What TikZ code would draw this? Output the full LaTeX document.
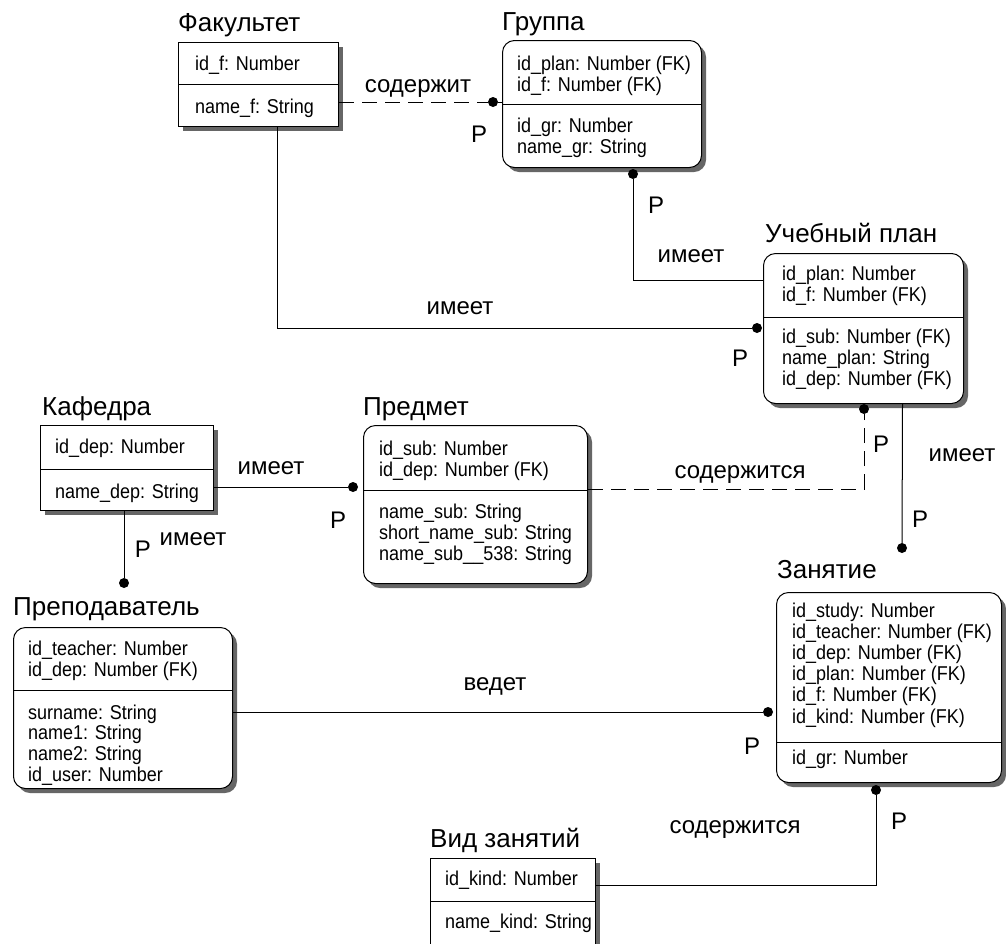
\documentclass[tikz,border=0pt]{standalone}
\usepackage{fontspec}
\setmainfont{Liberation Sans}
\newfontfamily\attrfont[FakeStretch=0.9]{Liberation Sans}

\tikzset{
  entity/.style={draw, line width=1pt, fill=white, inner sep=0pt, anchor=north west},
  shadowfill/.style={fill=black!60},
  divider/.style={line width=1pt},
  title/.style={anchor=base west, inner sep=0pt, font=\fontsize{26pt}{30pt}\selectfont},
  attr/.style={anchor=base west, inner sep=0pt, font=\attrfont\fontsize{20pt}{21pt}\selectfont},
  rel/.style={line width=1pt},
  ident/.style={rel},
  nonident/.style={rel, dash pattern=on 15pt off 8pt},
  dot/.style={circle, fill=black, inner sep=0pt, minimum size=10pt},
  lbl/.style={anchor=base, inner sep=0pt, font=\fontsize{24pt}{28pt}\selectfont},
}

\begin{document}
\begin{tikzpicture}[x=1pt, y=-1pt]
\useasboundingbox (0,0) rectangle (1006,943);
\clip (0,0) rectangle (1006,943);
\fill[white] (0,0) rectangle (1006,943);

% ---------- entity boxes with their shadows ----------
% name / left / top / width / height / corner radius
\foreach \n/\x/\y/\w/\h/\r in {
    fak/178/42/160/84/0, gru/502/40/199/127/12, upl/763/253/200/150/12,
    kaf/40/425/173/85/0, pre/363/425/224/158/12, tea/13/627/219/161/12,
    zan/776/592/225/190/12, vid/430/858/165/110/0} {
  \fill[shadowfill, rounded corners=\r pt] ({\x+5},{\y+5}) rectangle ++(\w,\h);
  \node[entity, rounded corners=\r pt, minimum width=\w pt, minimum height=\h pt] (\n) at (\x,\y) {};
}

% ---------- Факультет ----------
\node[title] (fak-t) at (178,31) {Факультет};
\draw[divider] (fak.west |- 0,84) -- (fak.east |- 0,84);
\node[attr] (fak-a1) at (195,70) {id\_f: Number};
\node[attr] (fak-a2) at (195,113) {name\_f: String};

% ---------- Группа ----------
\node[title] (gru-t) at (502,30) {Группа};
\draw[divider] (gru.west |- 0,104) -- (gru.east |- 0,104);
\foreach \t [count=\i] in {id\_plan: Number (FK), id\_f: Number (FK)}
  \node[attr] (gru-k\i) at (517,{70+21*(\i-1)}) {\t};
\foreach \t [count=\i] in {id\_gr: Number, name\_gr: String}
  \node[attr] (gru-a\i) at (517,{132+21*(\i-1)}) {\t};

% ---------- Учебный план ----------
\node[title] (upl-t) at (765,242) {Учебный план};
\draw[divider] (upl.west |- 0,317) -- (upl.east |- 0,317);
\foreach \t [count=\i] in {id\_plan: Number, id\_f: Number (FK)}
  \node[attr] (upl-k\i) at (782,{280+21*(\i-1)}) {\t};
\foreach \t [count=\i] in {id\_sub: Number (FK), name\_plan: String, id\_dep: Number (FK)}
  \node[attr] (upl-a\i) at (782,{343+21*(\i-1)}) {\t};

% ---------- Кафедра ----------
\node[title] (kaf-t) at (42,415) {Кафедра};
\draw[divider] (kaf.west |- 0,469) -- (kaf.east |- 0,469);
\node[attr] (kaf-a1) at (55,453) {id\_dep: Number};
\node[attr] (kaf-a2) at (55,498) {name\_dep: String};

% ---------- Предмет ----------
\node[title] (pre-t) at (363,415) {Предмет};
\draw[divider] (pre.west |- 0,490) -- (pre.east |- 0,490);
\foreach \t [count=\i] in {id\_sub: Number, id\_dep: Number (FK)}
  \node[attr] (pre-k\i) at (379,{455+21*(\i-1)}) {\t};
\foreach \t [count=\i] in {name\_sub: String, short\_name\_sub: String, name\_sub\_\_538: String}
  \node[attr] (pre-a\i) at (379,{518+21*(\i-1)}) {\t};

% ---------- Преподаватель ----------
\node[title] (tea-t) at (13,615) {Преподаватель};
\draw[divider] (tea.west |- 0,690) -- (tea.east |- 0,690);
\foreach \t [count=\i] in {id\_teacher: Number, id\_dep: Number (FK)}
  \node[attr] (tea-k\i) at (28,{655+21*(\i-1)}) {\t};
\foreach \t [count=\i] in {surname: String, name1: String, name2: String, id\_user: Number}
  \node[attr] (tea-a\i) at (28,{719+20.7*(\i-1)}) {\t};

% ---------- Занятие ----------
\node[title] (zan-t) at (777,578) {Занятие};
\draw[divider] (zan.west |- 0,742) -- (zan.east |- 0,742);
\foreach \t [count=\i] in {id\_study: Number, id\_teacher: Number (FK), id\_dep: Number (FK),
    id\_plan: Number (FK), id\_f: Number (FK), id\_kind: Number (FK)}
  \node[attr] (zan-k\i) at (792,{617+21.2*(\i-1)}) {\t};
\node[attr] (zan-a1) at (792,764) {id\_gr: Number};

% ---------- Вид занятий ----------
\node[title] (vid-t) at (430,847) {Вид занятий};
\draw[divider] (vid.west |- 0,901) -- (vid.east |- 0,901);
\node[attr] (vid-a1) at (445,885) {id\_kind: Number};
\node[attr] (vid-a2) at (445,928) {name\_kind: String};

% ---------- relationship ends ----------
\node[dot] (d1) at (493,102) {};
\node[dot] (d2) at (633,174) {};
\node[dot] (d3) at (757,328) {};
\node[dot] (d4) at (353,487) {};
\node[dot] (d5) at (864,409) {};
\node[dot] (d6) at (902,548) {};
\node[dot] (d7) at (124,583) {};
\node[dot] (d8) at (768,712) {};
\node[dot] (d9) at (876,790) {};

\coordinate (fak-s) at ([xshift=19pt]fak.south);
\coordinate (upl-s) at ([xshift=39pt]upl.south);
\coordinate (pre-e) at (pre.east |- 0,489);
\coordinate (vid-e) at (vid.east |- 0,885);

% ---------- relationships ----------
\draw[nonident] (fak.east |- d1) -- (d1);
\draw[ident] (d1) -- (gru.west |- d1);
\draw[ident] (d2) |- (upl.west |- 0,280);
\draw[ident] (fak-s) |- (d3);
\draw[ident] (kaf.east |- d4) -- (d4);
\draw[nonident] (pre-e) -| (d5);
\draw[ident] (upl-s) -- (d6);
\draw[ident] (kaf.south -| d7) -- (d7);
\draw[ident] (tea.east |- d8) -- (d8);
\draw[ident] (vid-e) -| (d9);

% ---------- labels ----------
\node[lbl] (l1) at (418,92) {содержит};
\node[lbl] (p1) at (479,142) {P};
\node[lbl] (l2) at (691,262) {имеет};
\node[lbl] (p2) at (656,213) {P};
\node[lbl] (l3) at (460,314) {имеет};
\node[lbl] (p3) at (740,366) {P};
\node[lbl] (l4) at (271,474) {имеет};
\node[lbl] (p4) at (338,528) {P};
\node[lbl] (l5) at (740,478) {содержится};
\node[lbl] (p5) at (881,452) {P};
\node[lbl] (l6) at (962,461) {имеет};
\node[lbl] (p6) at (920,527) {P};
\node[lbl] (l7) at (193,545) {имеет};
\node[lbl] (p7) at (143,557) {P};
\node[lbl] (l8) at (495,690) {ведет};
\node[lbl] (p8) at (752,754) {P};
\node[lbl] (l9) at (735,833) {содержится};
\node[lbl] (p9) at (899,829) {P};
\end{tikzpicture}
\end{document}
